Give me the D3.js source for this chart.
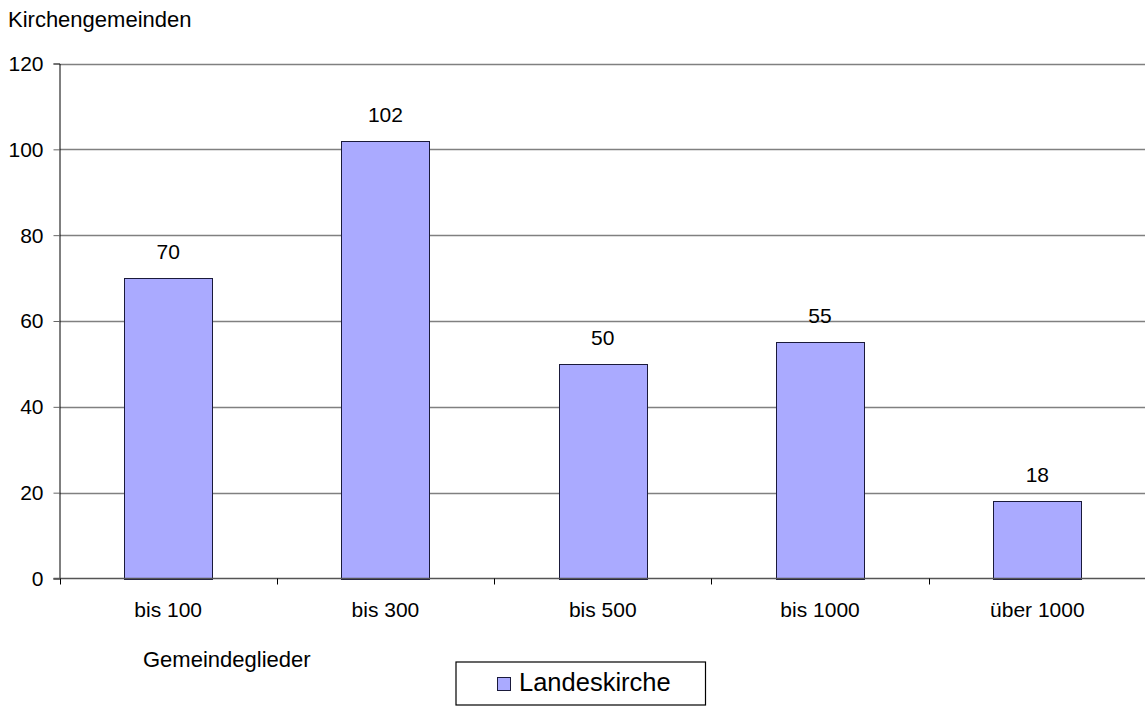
<!DOCTYPE html>
<html><head><meta charset="utf-8">
<script src="https://cdn.jsdelivr.net/npm/d3@7"></script>
<style>body{margin:0;background:#fff}svg{display:block;font-family:"Liberation Sans",Arial,sans-serif}</style>
</head><body><svg id="c" width="1145" height="707"></svg>
<script>
const categories = ["bis 100","bis 300","bis 500","bis 1000","über 1000"];
const values = [70,102,50,55,18];
const yTicks = [0,20,40,60,80,100,120];
const seriesName = "Landeskirche";

const svg = d3.select("#c");
const L = 59.5, R = 1146, T = 63.5, B = 578.5;
const FS = 21;
const x = d3.scaleBand().domain(categories).range([L, R]).paddingInner(0).paddingOuter(0);
const y = d3.scaleLinear().domain([0,120]).range([B, T]);

// gridlines
svg.append("g").selectAll("line").data(yTicks.filter(d=>d>0)).join("line")
  .attr("x1", L).attr("x2", R).attr("y1", d=>Math.round(y(d))+0.5).attr("y2", d=>Math.round(y(d))+0.5)
  .attr("stroke", "#808080").attr("stroke-width", 1.3);

// bars
const bw = x.bandwidth()*0.405;
svg.append("g").selectAll("rect").data(values).join("rect")
  .attr("x", (d,i)=>Math.round(x(categories[i]) + x.bandwidth()/2 - bw/2)+0.5)
  .attr("y", d=>Math.round(y(d))+0.5)
  .attr("width", Math.round(bw))
  .attr("height", d=>Math.round(B) - Math.round(y(d)))
  .attr("fill", "#aaaaff").attr("stroke", "#1a1a3a").attr("stroke-width", 1);

// value labels
svg.append("g").selectAll("text").data(values).join("text")
  .attr("x", (d,i)=>x(categories[i]) + x.bandwidth()/2)
  .attr("y", d=>y(d) - 19)
  .attr("text-anchor","middle").attr("font-size", FS).attr("fill","#000")
  .text(d=>d);

// y axis
const yAxis = d3.axisLeft(y).tickValues(yTicks).tickSize(6).tickPadding(10);
const gy = svg.append("g").attr("transform", `translate(${L},0)`).call(yAxis);
gy.attr("font-size", FS).attr("font-family","Liberation Sans, Arial, sans-serif");
gy.select(".domain").attr("stroke","#000");
gy.selectAll(".tick line").attr("stroke","#666");
gy.selectAll("text").attr("fill","#000").attr("dy", "0.33em");

// x axis baseline
svg.append("line").attr("x1", L-6).attr("x2", R).attr("y1", B).attr("y2", B).attr("stroke","#555").attr("stroke-width",1.5);
// category boundary ticks
const bounds = categories.map(c=>x(c)).concat([R]);
svg.append("g").selectAll("line").data(bounds).join("line")
  .attr("x1", d=>Math.round(d)+0.5).attr("x2", d=>Math.round(d)+0.5).attr("y1", B).attr("y2", B+6).attr("stroke","#000");
svg.append("g").selectAll("text").data(categories).join("text")
  .attr("x", d=>x(d)+x.bandwidth()/2).attr("y", 617)
  .attr("text-anchor","middle").attr("font-size", FS).attr("fill","#000").text(d=>d);

// axis titles
svg.append("text").attr("x", 8).attr("y", 27).attr("font-size", 22).attr("fill","#000").text("Kirchengemeinden");
svg.append("text").attr("x", 143).attr("y", 667).attr("font-size", 22).attr("fill","#000").text("Gemeindeglieder");

// legend
const lg = svg.append("g");
lg.append("rect").attr("x", 456).attr("y", 662).attr("width", 249.5).attr("height", 43).attr("fill","#fff").attr("stroke","#000").attr("stroke-width",1.2);
lg.append("rect").attr("x", 497.5).attr("y", 677.5).attr("width", 13).attr("height", 13).attr("fill","#aaaaff").attr("stroke","#1a1a3a");
lg.append("text").attr("x", 519).attr("y", 691).attr("font-size", 25.5).attr("fill","#000").text(seriesName);
</script></body></html>
